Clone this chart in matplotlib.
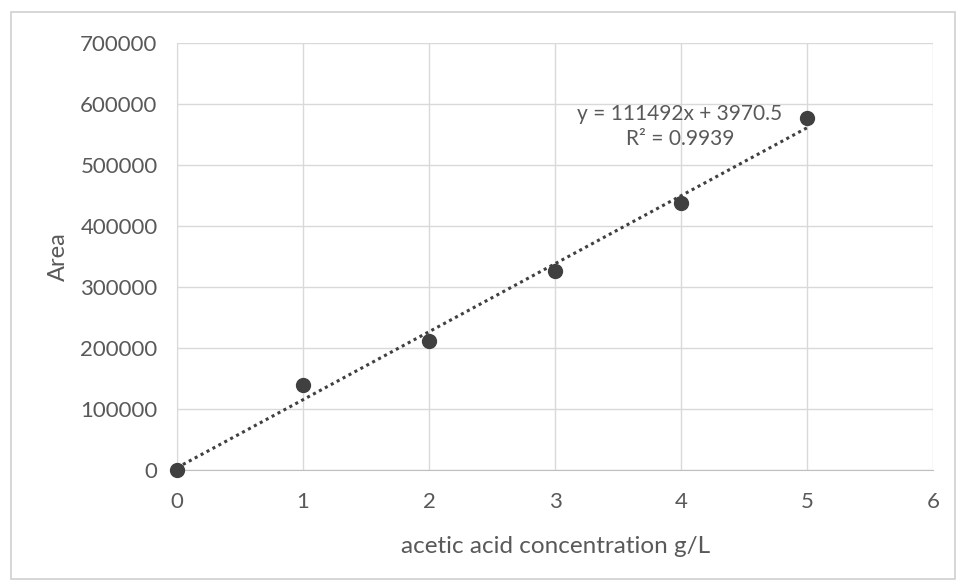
import matplotlib
matplotlib.use("Agg")
import matplotlib.pyplot as plt
from matplotlib.patches import Rectangle
import numpy as np

concentration = [0, 1, 2, 3, 4, 5]
area = [0, 139000, 211000, 327000, 438500, 578000]
slope = 111492
intercept = 3970.5
equation_text = "y = 111492x + 3970.5\nR² = 0.9939"
x_ticks = [0, 1, 2, 3, 4, 5, 6]
y_ticks = [0, 100000, 200000, 300000, 400000, 500000, 600000, 700000]

plt.rcParams['font.family'] = ['Lato', 'DejaVu Sans']
txt = '#595959'

fig = plt.figure(figsize=(9.59, 5.84), dpi=100)
fig.patches.append(Rectangle((0.011, 0.008), 0.985, 0.972, transform=fig.transFigure,
                             fill=False, edgecolor='#d0d0d0', linewidth=1.2))
ax = fig.add_axes([0.1846, 0.195, 0.7884, 0.731])

xs = np.array([concentration[0], concentration[-1]])
ax.plot(xs, slope * xs + intercept, linestyle=(0, (1, 1.2)), color='#404040', linewidth=2.2, zorder=3)
ax.plot(concentration, area, 'o', color='#404040', markersize=10, zorder=4, clip_on=False)

ax.set_xlim(0, 6)
ax.set_ylim(0, 700000)
ax.set_xticks(x_ticks)
ax.set_yticks(y_ticks)
ax.set_xticklabels([str(v) for v in x_ticks])
ax.set_yticklabels([str(v) for v in y_ticks])
ax.grid(True, color='#d9d9d9', linewidth=1)
ax.set_axisbelow(True)
for s in ['top', 'right']:
    ax.spines[s].set_visible(False)
ax.spines['left'].set_color('#d9d9d9')
ax.spines['bottom'].set_color('#bfbfbf')
ax.tick_params(length=0, colors=txt, labelsize=16)
ax.tick_params(axis='y', pad=14)
ax.tick_params(axis='x', pad=16)

ax.set_xlabel('acetic acid concentration g/L', color=txt, fontsize=17.5, labelpad=17)
ax.set_ylabel('Area', color=txt, fontsize=17, labelpad=8)

ax.text(3.99, 563000, equation_text, ha='center', va='center', color=txt, fontsize=15,
        linespacing=1.3)

fig.savefig('out.png', dpi=100)
